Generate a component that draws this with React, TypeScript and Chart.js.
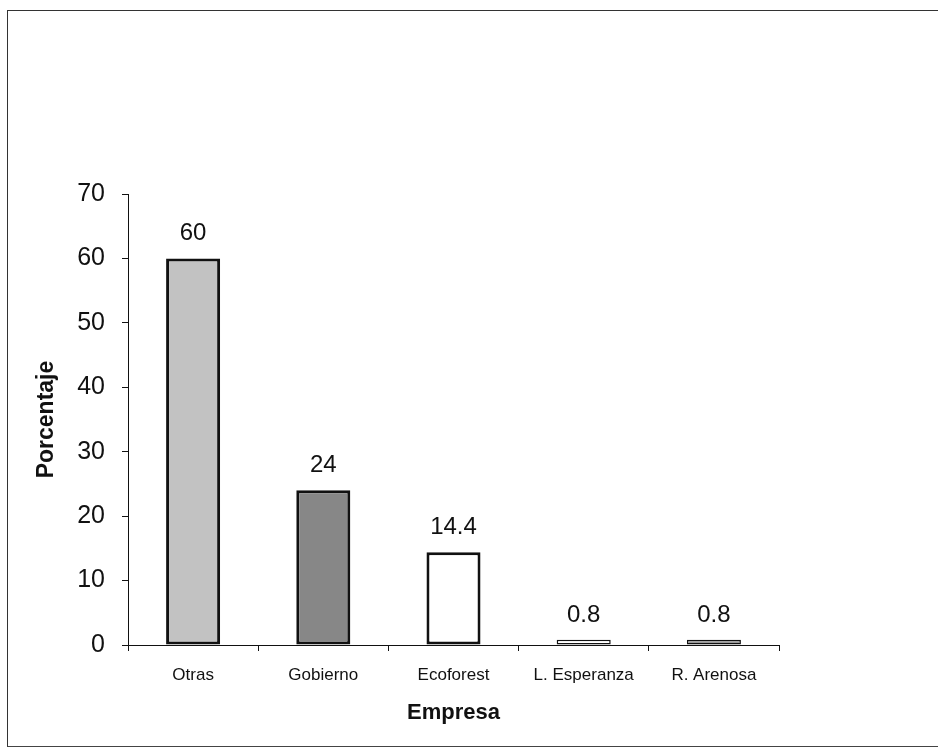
import React, { useEffect, useRef } from "react";
import { Chart, registerables } from "chart.js";

Chart.register(...registerables);

const categories = ["Otras", "Gobierno", "Ecoforest", "L. Esperanza", "R. Arenosa"];
const values = [60, 24, 14.4, 0.8, 0.8];
const valueLabels = ["60", "24", "14.4", "0.8", "0.8"];
const barColors = ["#c2c2c2", "#878787", "#ffffff", "#ffffff", "#9a9a9a"];
const barBorderWidths = [3, 3, 3, 1.5, 1.5];
const yTicks = [0, 10, 20, 30, 40, 50, 60, 70];

const FONT = "Arial, 'Liberation Sans', Helvetica, sans-serif";

export default function App() {
  const ref = useRef<HTMLCanvasElement | null>(null);

  useEffect(() => {
    const canvas = ref.current;
    if (!canvas) return;

    const labelPlugin = {
      id: "valueLabels",
      afterDatasetsDraw(chart: any) {
        const ctx = chart.ctx;
        const meta = chart.getDatasetMeta(0);
        ctx.save();
        ctx.fillStyle = "#111";
        ctx.font = `24px ${FONT}`;
        ctx.textAlign = "center";
        ctx.textBaseline = "alphabetic";
        meta.data.forEach((bar: any, i: number) => {
          ctx.fillText(valueLabels[i], bar.x, bar.y - 18);
        });
        ctx.restore();
      },
    };

    const chart = new Chart(canvas, {
      type: "bar",
      data: {
        labels: categories,
        datasets: [
          {
            data: values,
            backgroundColor: barColors,
            borderColor: "#111",
            borderWidth: barBorderWidths,
            borderSkipped: false,
            categoryPercentage: 1,
            barPercentage: 0.415,
          },
        ],
      },
      options: {
        responsive: false,
        animation: false,
        layout: { padding: { left: 0, right: 159, top: 194, bottom: 0 } },
        plugins: {
          legend: { display: false },
          tooltip: { enabled: false },
        },
        scales: {
          x: {
            type: "category",
            offset: true,
            grid: {
              offset: true,
              drawOnChartArea: false,
              drawTicks: true,
              tickLength: 6,
              color: "#111",
            },
            border: { display: true, color: "#111", width: 1 },
            ticks: {
              color: "#111",
              font: { family: FONT, size: 17 },
              padding: 14,
              maxRotation: 0,
              autoSkip: false,
            },
            title: {
              display: true,
              text: "Empresa",
              color: "#111",
              font: { family: FONT, size: 22, weight: "bold" },
              padding: { top: 0, bottom: 27 },
            },
            afterFit(scale: any) {
              scale.height = 108;
            },
          },
          y: {
            min: 0,
            max: 70,
            afterBuildTicks(scale: any) {
              scale.ticks = yTicks.map((v) => ({ value: v }));
            },
            grid: {
              drawOnChartArea: false,
              drawTicks: true,
              tickLength: 6,
              color: "#111",
            },
            border: { display: true, color: "#111", width: 1 },
            ticks: {
              color: "#111",
              font: { family: FONT, size: 25 },
              padding: 17,
            },
            title: {
              display: true,
              text: "Porcentaje",
              color: "#111",
              font: { family: FONT, size: 23, weight: "bold" },
              padding: { top: 33, bottom: 0 },
            },
            afterFit(scale: any) {
              scale.width = 128;
            },
          },
        },
      },
      plugins: [labelPlugin],
    });

    return () => chart.destroy();
  }, []);

  return (
    <div
      style={{
        position: "fixed",
        left: 0,
        top: 0,
        width: 938,
        height: 753,
        overflow: "hidden",
        background: "#fff",
      }}
    >
      <div
        style={{
          position: "absolute",
          left: 7,
          top: 10,
          width: 1000,
          height: 737,
          borderLeft: "1.5px solid #333",
          borderTop: "1.5px solid #333",
          borderBottom: "1.5px solid #444",
          boxSizing: "border-box",
        }}
      />
      <canvas
        ref={ref}
        width={938}
        height={753}
        style={{ position: "absolute", left: 0, top: 0, display: "block" }}
      />
    </div>
  );
}
